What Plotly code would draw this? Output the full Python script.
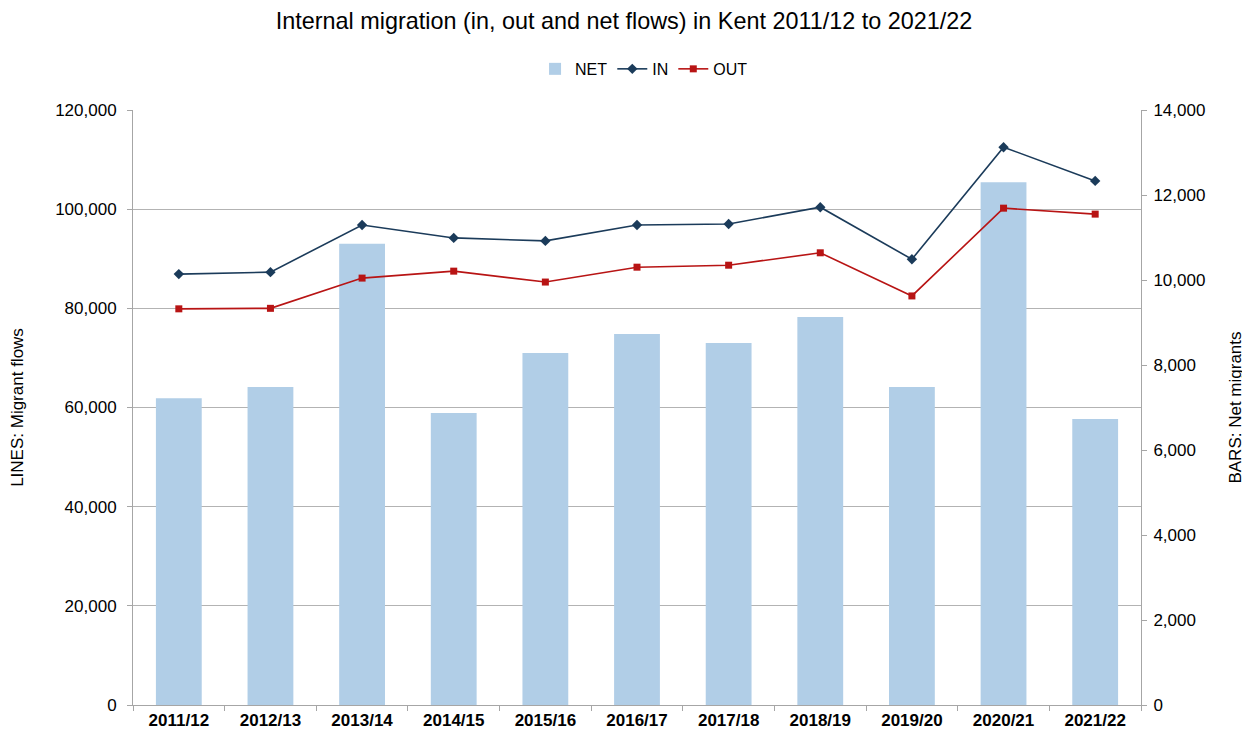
import plotly.graph_objects as go

years = ["2011/12", "2012/13", "2013/14", "2014/15", "2015/16", "2016/17",
         "2017/18", "2018/19", "2019/20", "2020/21", "2021/22"]
net = [7220, 7480, 10850, 6870, 8280, 8730, 8520, 9130, 7480, 12300, 6730]
in_flow = [86900, 87300, 96800, 94200, 93600, 96800, 97000, 100400, 89900, 112500, 105700]
out_flow = [79900, 80000, 86100, 87500, 85300, 88300, 88700, 91200, 82500, 100200, 99000]

font_family = "Liberation Sans, Arial, sans-serif"

fig = go.Figure()
# Bars on primary axis (drawn beneath), shown on the right side
fig.add_trace(go.Bar(x=years, y=net, name="NET", yaxis="y",
                     marker=dict(color="#B1CEE7", line=dict(width=0))))
# Lines on overlay axis (drawn above bars), shown on the left side
fig.add_trace(go.Scatter(x=years, y=in_flow, name="IN", mode="lines+markers", yaxis="y2",
                         line=dict(color="#1B3B5A", width=1.6),
                         marker=dict(symbol="diamond", size=8, color="#1B3B5A")))
fig.add_trace(go.Scatter(x=years, y=out_flow, name="OUT", mode="lines+markers", yaxis="y2",
                         line=dict(color="#B81414", width=1.6),
                         marker=dict(symbol="square", size=7, color="#B81414")))

fig.update_layout(
    width=1242, height=725,
    paper_bgcolor="white", plot_bgcolor="white",
    font=dict(family=font_family, size=17, color="black"),
    title=dict(text="Internal migration (in, out and net flows) in Kent 2011/12 to 2021/22",
               x=0.496, xanchor="center", xref="container",
               y=0.983, yanchor="middle", yref="container", automargin=False,
               font=dict(size=23.4, color="black")),
    margin=dict(l=125, r=109, t=102, b=28, autoexpand=False),
    bargap=0.5,
    legend=dict(orientation="h", x=0.507, xanchor="center", y=1.069, yanchor="middle",
                font=dict(size=16), itemwidth=30, traceorder="normal"),
    xaxis=dict(range=[-0.5, len(years) - 0.5],
               showline=True, linecolor="#A6A6A6", linewidth=1, automargin=False,
               ticks="outside", tickson="boundaries", tickcolor="#A6A6A6", ticklen=5,
               tickfont=dict(size=17, weight="bold"), showgrid=False),
    yaxis=dict(range=[0, 14000], dtick=2000, tickformat=",", side="right",
               showline=True, linecolor="#A6A6A6", linewidth=1, automargin=False,
               ticks="outside", tickcolor="#A6A6A6", ticklen=5, ticklabelstandoff=3,
               showgrid=False, zeroline=False,
               title=dict(text="BARS: Net migrants", font=dict(size=17), standoff=24),
               tickfont=dict(size=17)),
    yaxis2=dict(range=[0, 120000], dtick=20000, tickformat=",", overlaying="y", side="left",
                showline=True, linecolor="#A6A6A6", linewidth=1, automargin=False,
                ticks="outside", tickcolor="#A6A6A6", ticklen=5, ticklabelstandoff=7,
                showgrid=True, gridcolor="#B3B3B3", gridwidth=1,
                zeroline=False,
                title=dict(text="LINES: Migrant flows", font=dict(size=17), standoff=28),
                tickfont=dict(size=17)),
)

fig.write_html("out.html")
